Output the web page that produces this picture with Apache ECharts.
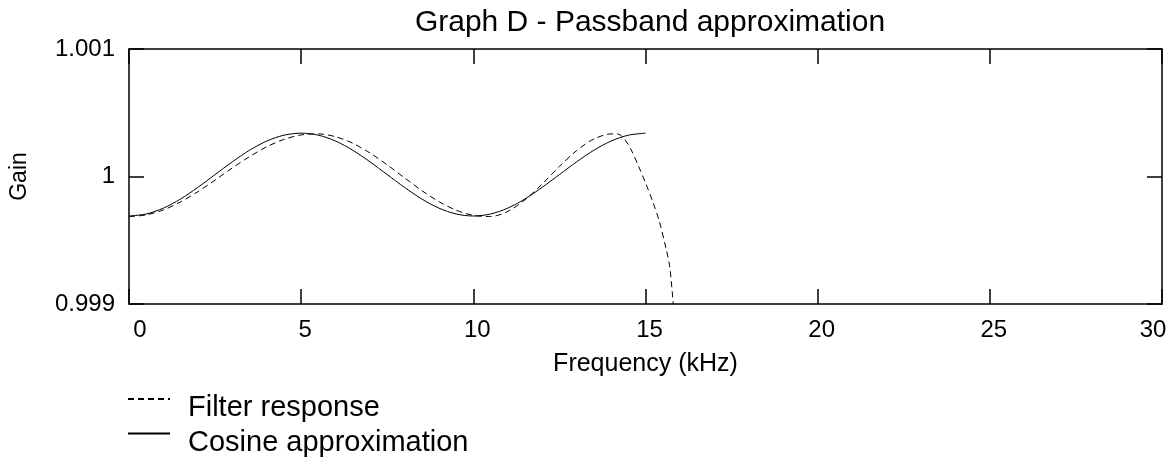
<!DOCTYPE html>
<html>
<head>
<meta charset="utf-8">
<script src="https://cdn.jsdelivr.net/npm/echarts@6/dist/echarts.min.js"></script>
<style>
  html, body { margin: 0; padding: 0; background: #fff; }
  #chart { width: 1175px; height: 464px; }
</style>
</head>
<body>
<div id="chart"></div>
<script>
// Frequency samples (kHz) and gains for the measured filter response
const filterFreq = [0, 0.5, 1, 1.5, 2, 2.5, 3, 3.5, 4, 4.5, 5, 5.5, 6, 6.5, 7, 7.5, 8, 8.5, 9, 9.5,
  10, 10.5, 11, 11.5, 12, 12.5, 13, 13.5, 14, 14.2, 14.4, 14.6, 14.8, 15, 15.2, 15.4, 15.6, 15.7, 15.8, 15.9];
const filterGain = [0.999685, 0.999699, 0.999738, 0.999801, 0.999881, 0.999972, 1.000067, 1.000156,
  1.000233, 1.000291, 1.000326, 1.000334, 1.000312, 1.000261, 1.000184, 1.000091, 0.999990, 0.999890,
  0.999803, 0.999736, 0.999695, 0.999686, 0.999726, 0.999817, 0.999941, 1.000079, 1.000203, 1.000294,
  1.000334, 1.000333, 1.000290, 1.000200, 1.000080, 0.999950, 0.999810, 0.999650, 0.999430, 0.999300,
  0.999020, 0.998700];

// Cosine approximation over the passband (0-15 kHz)
const cosFreq = [0, 0.5, 1, 1.5, 2, 2.5, 3, 3.5, 4, 4.5, 5, 5.5, 6, 6.5, 7, 7.5, 8, 8.5, 9, 9.5,
  10, 10.5, 11, 11.5, 12, 12.5, 13, 13.5, 14, 14.5, 15];
const cosGain = [0.999690, 0.999706, 0.999752, 0.999824, 0.999915, 1.000015, 1.000115, 1.000206,
  1.000278, 1.000324, 1.000340, 1.000324, 1.000278, 1.000206, 1.000115, 1.000015, 0.999915, 0.999824,
  0.999752, 0.999706, 0.999690, 0.999706, 0.999752, 0.999824, 0.999915, 1.000015, 1.000115, 1.000206,
  1.000278, 1.000324, 1.000340];

const xTicks = [0, 5, 10, 15, 20, 25, 30];
const yTicks = [0.999, 1, 1.001];
const seriesNames = ['Filter response', 'Cosine approximation'];
const titleText = 'Graph D - Passband approximation';
const xName = 'Frequency (kHz)';
const yName = 'Gain';

const FONT = '"Liberation Sans", Arial, sans-serif';
const TICK_FS = 24;
const pairs = (xs, ys) => xs.map((x, i) => [x, ys[i]]);

const tickStyle = { show: true, inside: true, length: 15, lineStyle: { color: '#000', width: 1.5 } };
const lineStyle = { show: true, onZero: false, lineStyle: { color: '#000', width: 1.5 } };
const tickText = { fontFamily: FONT, fontSize: TICK_FS, color: '#000' };
const legendText = { fontFamily: FONT, fontSize: 29, color: '#000' };

const chart = echarts.init(document.getElementById('chart'), null, { renderer: 'canvas' });
chart.setOption({
  backgroundColor: '#fff',
  animation: false,
  title: {
    text: titleText,
    left: 645,
    top: 3,
    textAlign: 'center',
    textStyle: { fontFamily: FONT, fontSize: 30, fontWeight: 'normal', color: '#000' }
  },
  legend: {
    orient: 'vertical',
    left: 127,
    top: 391,
    padding: 0,
    itemWidth: 42,
    itemHeight: 20,
    itemGap: 3,
    data: seriesNames,
    itemStyle: { color: 'transparent', borderColor: 'transparent', opacity: 0 },
    formatter: name => '{t|' + name + '}',
    textStyle: { ...legendText, rich: { t: { ...legendText, padding: [18, 0, 0, 13] } } }
  },
  grid: { left: 127, right: 13, top: 49, bottom: 160 },
  xAxis: [
    {
      type: 'value', min: xTicks[0], max: xTicks[xTicks.length - 1], interval: 5,
      position: 'bottom',
      axisLine: lineStyle, axisTick: tickStyle, splitLine: { show: false },
      name: xName, nameLocation: 'middle', nameGap: 48,
      nameTextStyle: { fontFamily: FONT, fontSize: 25, color: '#000' },
      axisLabel: {
        ...tickText, margin: 14,
        formatter: v => {
          if (v === xTicks[0]) return '{lo|' + v + '}';
          if (v === xTicks[xTicks.length - 1]) return '{hi|' + v + '}';
          return '{mid|' + v + '}';
        },
        rich: {
          lo: { ...tickText, padding: [0, 0, 0, 22] },
          mid: { ...tickText, padding: [0, 0, 0, 8] },
          hi: { ...tickText, padding: [0, 18, 0, 0] }
        }
      }
    },
    {
      type: 'value', min: xTicks[0], max: xTicks[xTicks.length - 1], interval: 5,
      position: 'top',
      axisLine: lineStyle, axisTick: tickStyle, splitLine: { show: false },
      axisLabel: { show: false }
    }
  ],
  yAxis: [
    {
      type: 'value', min: yTicks[0], max: yTicks[yTicks.length - 1], interval: 0.001,
      position: 'left',
      axisLine: lineStyle, axisTick: tickStyle, splitLine: { show: false },
      name: yName, nameLocation: 'middle', nameGap: 98, nameRotate: 90,
      nameTextStyle: { fontFamily: FONT, fontSize: 23, color: '#000' },
      axisLabel: {
        ...tickText, margin: 14,
        padding: [8, 0, 0, 0],
        formatter: v => String(+v.toFixed(3))
      }
    },
    {
      type: 'value', min: yTicks[0], max: yTicks[yTicks.length - 1], interval: 0.001,
      position: 'right',
      axisLine: lineStyle, axisTick: tickStyle, splitLine: { show: false },
      axisLabel: { show: false }
    }
  ],
  series: [
    {
      name: seriesNames[0], type: 'line', xAxisIndex: 0, yAxisIndex: 0,
      data: pairs(filterFreq, filterGain),
      showSymbol: false, symbol: 'none', smooth: 0.3, clip: true,
      lineStyle: { color: '#000', width: 1, type: [6, 4] },
      itemStyle: { color: '#000' }
    },
    {
      name: seriesNames[1], type: 'line', xAxisIndex: 0, yAxisIndex: 0,
      data: pairs(cosFreq, cosGain),
      showSymbol: false, symbol: 'none', smooth: 0.3, clip: true,
      lineStyle: { color: '#000', width: 1, type: 'solid' },
      itemStyle: { color: '#000' }
    }
  ]
});
</script>
</body>
</html>
